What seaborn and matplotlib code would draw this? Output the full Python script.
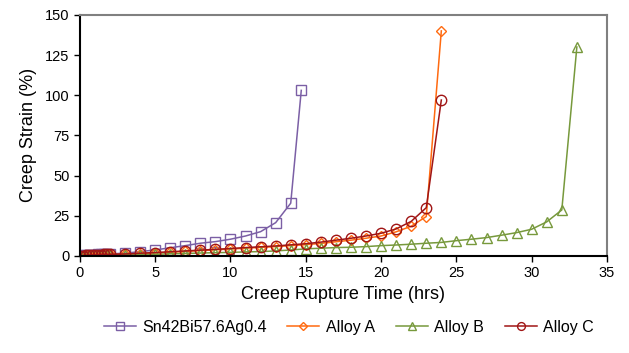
import numpy as np
import pandas as pd
import matplotlib
matplotlib.use("Agg")
import matplotlib.pyplot as plt
import seaborn as sns

#creep data (hours, strain %)
hours_early = [0, 0.2, 0.4, 0.6, 0.8, 1.0, 1.2, 1.4, 1.6, 1.8, 2.0]

sn_hours = hours_early + [3, 4, 5, 6, 7, 8, 9, 10, 11, 12, 13, 14, 14.7]
sn_strain = [0, 0.3, 0.5, 0.6, 0.7, 0.8, 0.9, 1.0, 1.1, 1.2, 1.3,
             1.7, 2.7, 3.7, 5.1, 6.4, 7.9, 8.9, 10.4, 12.4, 15.1, 20.7, 32.8, 103]

a_hours = hours_early + list(range(3, 25))
a_strain = [0, 0.2, 0.3, 0.4, 0.5, 0.6, 0.6, 0.7, 0.8, 0.8, 0.9,
            1.0, 1.4, 1.8, 2.3, 2.8, 3.3, 3.8, 4.3, 4.8, 5.3, 5.8, 6.4,
            7.0, 7.8, 8.8, 9.8, 11.0, 12.4, 15.0, 18.5, 24.5, 140]

b_hours = hours_early + list(range(3, 34))
b_strain = [0, 0.1, 0.2, 0.2, 0.3, 0.3, 0.3, 0.4, 0.4, 0.4, 0.5,
            0.6, 0.8, 1.0, 1.3, 1.5, 1.8, 2.0, 2.2, 2.5, 2.7, 3.1, 3.7,
            4.4, 4.8, 5.2, 5.4, 5.8, 6.4, 6.8, 7.3, 7.9, 8.4, 9.5, 10.4,
            11.4, 12.9, 14.5, 16.6, 21.2, 28.6, 130]

c_hours = hours_early + list(range(3, 25))
c_strain = [0, 0.2, 0.3, 0.4, 0.5, 0.6, 0.7, 0.8, 0.9, 1.0, 1.0,
            1.2, 1.7, 2.1, 2.6, 3.1, 3.6, 4.1, 4.6, 5.2, 5.7, 6.2, 6.9,
            7.6, 8.6, 9.8, 11.0, 12.4, 14.1, 16.8, 21.5, 30.0, 97]

series = [
    ("Sn42Bi57.6Ag0.4", sn_hours, sn_strain, "s", "#7B5FA5", 7),
    ("Alloy A", a_hours, a_strain, "D", "#FF6A10", 5.5),
    ("Alloy B", b_hours, b_strain, "^", "#77993C", 7.5),
    ("Alloy C", c_hours, c_strain, "o", "#A01515", 7.5),
]

plt.rcParams["font.family"] = ["Liberation Sans", "DejaVu Sans"]

fig = plt.figure(figsize=(6.29, 3.53), dpi=100)
ax = fig.add_axes([0.127, 0.275, 0.838, 0.683])

for name, x, y, mk, col, ms in series:
    sns.lineplot(
        x = x,
        y = y,
        ax = ax,
        color = col,
        marker = mk,
        markersize = ms,
        markerfacecolor = "none",
        markeredgecolor = col,
        markeredgewidth = 1.0,
        linewidth = 1.1,
        errorbar = None,
        label = name
        )

ax.set_xlim(0, 35)
ax.set_ylim(0, 150)
ax.set_xticks(range(0, 36, 5))
ax.set_yticks(range(0, 151, 25))
ax.tick_params(labelsize=10.5, length=4, width=1, direction="out")
ax.set_xlabel("Creep Rupture Time (hrs)", fontsize=13, labelpad=4)
ax.set_ylabel("Creep Strain (%)", fontsize=13, labelpad=6)

for side in ["left", "bottom"]:
    ax.spines[side].set_color("black")
    ax.spines[side].set_linewidth(1.5)
for side in ["top", "right"]:
    ax.spines[side].set_color("#808080")
    ax.spines[side].set_linewidth(1.5)

ax.legend(
    loc = "center",
    bbox_to_anchor = (0.51, -0.295),
    ncol = 4,
    frameon = False,
    fontsize = 11.5,
    handlelength = 2.0,
    handletextpad = 0.4,
    columnspacing = 1.3,
    markerscale = 0.75
    )

fig.savefig("out.png", dpi=100)
